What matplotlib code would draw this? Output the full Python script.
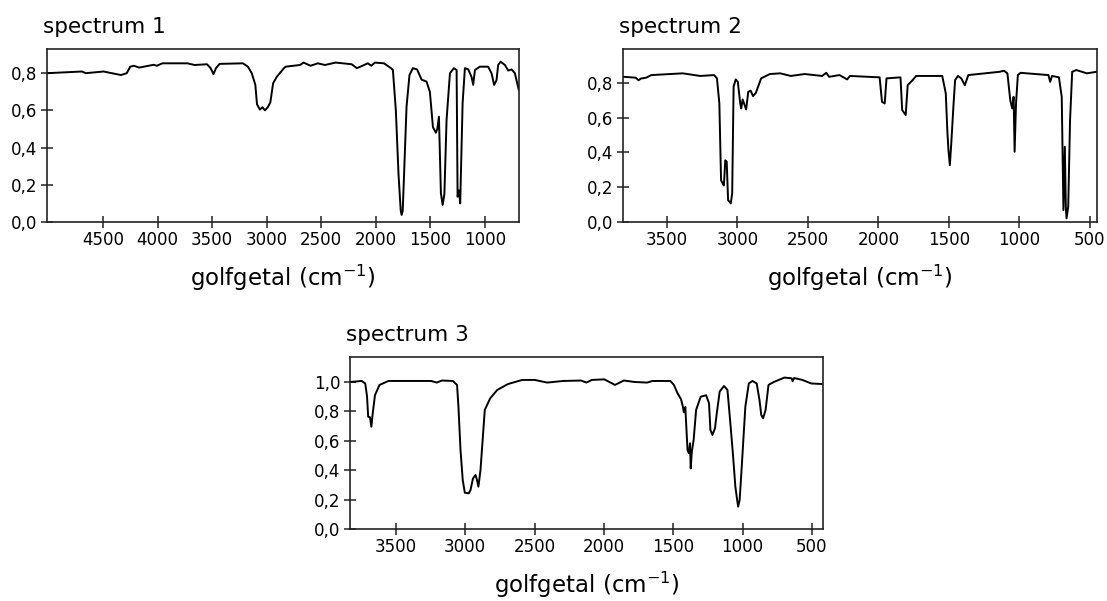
import numpy as np
import matplotlib.pyplot as plt
from matplotlib.ticker import FuncFormatter

# spectrum 1: wavenumber (cm-1) and transmission
wn1 = [5013, 4692, 4658, 4495, 4335, 4282, 4250, 4216, 4168, 4037, 4005, 3955, 3726, 3660,
       3546, 3513, 3487, 3464, 3431, 3217, 3171, 3136, 3103, 3088, 3061, 3038, 3015, 2989,
       2966, 2940, 2907, 2841, 2825, 2694, 2661, 2597, 2530, 2465, 2367, 2220, 2172, 2121,
       2072, 2040, 2007, 1924, 1860, 1842, 1815, 1790, 1770, 1762, 1752, 1740, 1717, 1690,
       1659, 1620, 1579, 1534, 1503, 1475, 1448, 1435, 1420, 1402, 1386, 1370, 1350, 1319,
       1283, 1258, 1249, 1237, 1225, 1203, 1182, 1151, 1121, 1106, 1090, 1045, 969, 938,
       914, 892, 877, 855, 815, 785, 754, 724, 688]
t1 = [0.80, 0.809, 0.80, 0.809, 0.79, 0.80, 0.835, 0.84, 0.83, 0.845, 0.84, 0.853, 0.853, 0.844,
      0.848, 0.827, 0.795, 0.827, 0.85, 0.853, 0.835, 0.80, 0.737, 0.633, 0.604, 0.617, 0.60, 0.617,
      0.642, 0.746, 0.78, 0.827, 0.835, 0.844, 0.857, 0.84, 0.853, 0.844, 0.857, 0.848, 0.827, 0.84,
      0.853, 0.84, 0.857, 0.853, 0.827, 0.817, 0.60, 0.25, 0.06, 0.038, 0.06, 0.25, 0.62, 0.79,
      0.827, 0.82, 0.765, 0.755, 0.70, 0.51, 0.48, 0.50, 0.566, 0.155, 0.092, 0.15, 0.55, 0.80,
      0.827, 0.817, 0.136, 0.17, 0.10, 0.638, 0.827, 0.82, 0.78, 0.737, 0.817, 0.835, 0.835, 0.80,
      0.737, 0.763, 0.844, 0.862, 0.844, 0.814, 0.82, 0.80, 0.71]

# spectrum 2
wn2 = [3805, 3720, 3700, 3683, 3646, 3609, 3386, 3263, 3164, 3144, 3127, 3115, 3102, 3095,
       3085, 3075, 3065, 3046, 3036, 3026, 3011, 2996, 2979, 2972, 2962, 2952, 2937, 2922,
       2905, 2888, 2868, 2831, 2769, 2695, 2621, 2522, 2399, 2369, 2349, 2275, 2221, 2201,
       1991, 1974, 1955, 1942, 1843, 1831, 1806, 1792, 1757, 1732, 1547, 1522, 1510, 1503,
       1493, 1483, 1468, 1456, 1436, 1412, 1387, 1362, 1140, 1110, 1085, 1065, 1051, 1041,
       1034, 1024, 1011, 992, 794, 782, 769, 720, 700, 688, 678, 671, 666, 654, 641, 626,
       597, 522, 452]
t2 = [0.835, 0.83, 0.815, 0.825, 0.83, 0.845, 0.855, 0.84, 0.845, 0.826, 0.682, 0.24, 0.22, 0.21,
      0.355, 0.347, 0.126, 0.107, 0.165, 0.778, 0.82, 0.806, 0.682, 0.653, 0.705, 0.682, 0.647, 0.749,
      0.755, 0.724, 0.743, 0.826, 0.851, 0.855, 0.84, 0.851, 0.84, 0.858, 0.835, 0.845, 0.82, 0.84,
      0.832, 0.691, 0.682, 0.826, 0.832, 0.644, 0.615, 0.787, 0.816, 0.84, 0.84, 0.74, 0.509, 0.414,
      0.327, 0.452, 0.663, 0.816, 0.84, 0.826, 0.787, 0.845, 0.864, 0.87, 0.855, 0.701, 0.653, 0.72,
      0.404, 0.682, 0.845, 0.858, 0.845, 0.806, 0.84, 0.832, 0.72, 0.069, 0.433, 0.088, 0.021, 0.088,
      0.586, 0.864, 0.874, 0.855, 0.864]

# spectrum 3
wn3 = [3829, 3747, 3721, 3708, 3700, 3687, 3677, 3667, 3651, 3618, 3554, 3245, 3206, 3168,
       3090, 3059, 3049, 3034, 3018, 3003, 2974, 2962, 2944, 2926, 2915, 2905, 2890, 2859,
       2820, 2769, 2692, 2589, 2499, 2409, 2293, 2165, 2126, 2087, 1997, 1920, 1856, 1778,
       1688, 1650, 1521, 1495, 1469, 1444, 1431, 1423, 1413, 1397, 1387, 1379, 1374, 1366,
       1353, 1335, 1302, 1263, 1242, 1232, 1217, 1199, 1186, 1165, 1134, 1109, 1088, 1070,
       1052, 1039, 1032, 1021, 1006, 980, 955, 929, 898, 878, 865, 852, 834, 813, 775, 698,
       646, 639, 628, 569, 505, 422]
t3 = [1.0, 1.007, 0.99, 0.90, 0.764, 0.76, 0.696, 0.787, 0.91, 0.98, 1.007, 1.007, 0.996, 1.01,
      1.007, 0.98, 0.832, 0.537, 0.333, 0.247, 0.243, 0.265, 0.344, 0.367, 0.333, 0.288, 0.401, 0.81,
      0.889, 0.946, 0.986, 1.014, 1.014, 0.996, 1.007, 1.01, 0.996, 1.014, 1.018, 0.98, 1.01, 1.0,
      0.996, 1.007, 1.007, 0.98, 0.923, 0.883, 0.834, 0.793, 0.83, 0.537, 0.515, 0.583, 0.412, 0.526,
      0.605, 0.81, 0.90, 0.91, 0.855, 0.674, 0.64, 0.685, 0.787, 0.935, 0.973, 0.946, 0.719, 0.515,
      0.288, 0.198, 0.152, 0.198, 0.424, 0.832, 0.99, 1.007, 0.99, 0.877, 0.775, 0.753, 0.81, 0.98,
      1.0, 1.03, 1.025, 1.005, 1.027, 1.014, 0.99, 0.986]

W, H = 1107, 601
fig = plt.figure(figsize=(W / 100, H / 100), dpi=100)


def make_axes(left, top, right, bottom):
    return fig.add_axes([left / W, 1 - bottom / H, (right - left) / W, (bottom - top) / H])


comma = FuncFormatter(lambda v, p: f"{v:.1f}".replace('.', ','))


def style(ax, title, xlim, ylim, yticks):
    ax.set_xticks(np.arange(4500, 400, -500))
    ax.set_xlim(*xlim)
    ax.set_ylim(*ylim)
    ax.set_yticks(yticks)
    ax.yaxis.set_major_formatter(comma)
    ax.tick_params(direction='inout', length=8.5, width=1.1, labelsize=12,
                   color='#222222', pad=2.5)
    for s in ax.spines.values():
        s.set_linewidth(1.2)
        s.set_color('#222222')
    ax.set_xlabel('golfgetal (cm$^{-1}$)', fontsize=16.5, labelpad=10)
    ax.annotate(title, xy=(0, 1), xycoords='axes fraction', xytext=(-4, 16),
                textcoords='offset pixels', fontsize=15.5, ha='left', va='baseline')


ax1 = make_axes(47, 49, 519, 222)
ax1.plot(wn1, t1, color='black', lw=1.4)
style(ax1, 'spectrum 1', (5013, 686), (0, 0.93), [0, 0.2, 0.4, 0.6, 0.8])

ax2 = make_axes(623, 49, 1097, 222)
ax2.plot(wn2, t2, color='black', lw=1.4)
style(ax2, 'spectrum 2', (3810, 450), (0, 0.995), [0, 0.2, 0.4, 0.6, 0.8])

ax3 = make_axes(350, 357, 823, 529)
ax3.plot(wn3, t3, color='black', lw=1.4)
style(ax3, 'spectrum 3', (3831, 420), (0, 1.17), [0, 0.2, 0.4, 0.6, 0.8, 1.0])

fig.savefig('out.png', dpi=100)
